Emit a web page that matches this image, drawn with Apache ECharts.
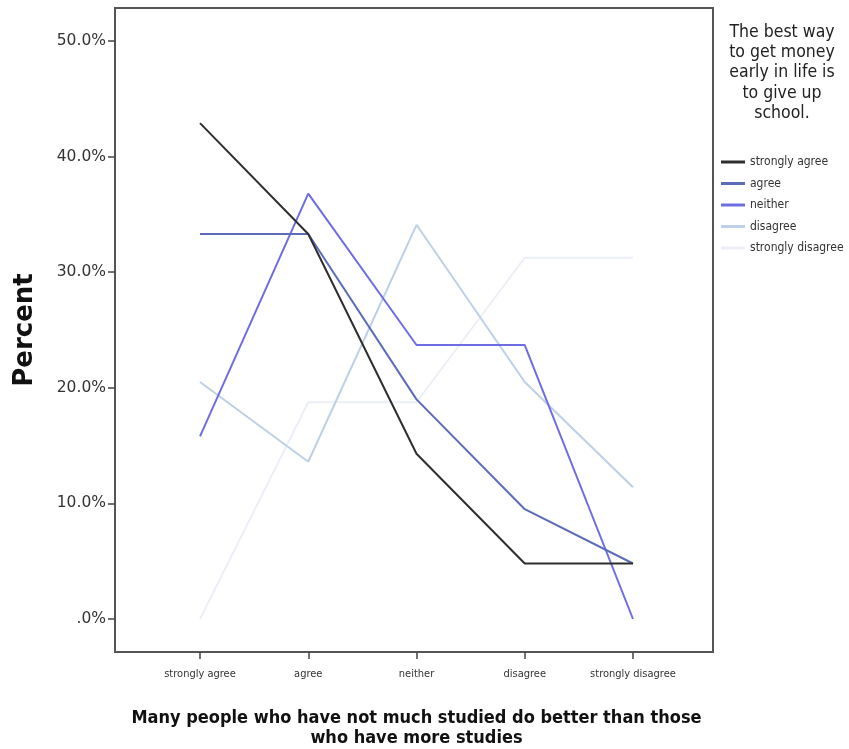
<!DOCTYPE html>
<html>
<head>
<meta charset="utf-8">
<script src="https://cdn.jsdelivr.net/npm/echarts@6/dist/echarts.min.js"></script>
<style>
  html, body { margin: 0; padding: 0; background: #fff; }
  #chart { width: 849px; height: 749px; }
</style>
</head>
<body>
<div id="chart"></div>
<script>
const categories = ['strongly agree', 'agree', 'neither', 'disagree', 'strongly disagree']
const seriesNames = ['strongly agree', 'agree', 'neither', 'disagree', 'strongly disagree']

// percent of each answer group
const stronglyAgree = [42.9, 33.3, 14.3, 4.8, 4.8]
const agree = [33.3, 33.3, 19.0, 9.5, 4.8]
const neither = [15.8, 36.8, 23.7, 23.7, 0.0]
const disagree = [20.5, 13.6, 34.1, 20.5, 11.4]
const stronglyDisagree = [0.0, 18.75, 18.75, 31.25, 31.25]

const yTicks = [0, 10, 20, 30, 40, 50]

const colors = ['#2e2e2e', '#5d6cb8', '#6e6ee2', '#bdd0e6', '#eceff7']
const cond = '"DejaVu Sans Condensed", "DejaVu Sans", sans-serif'

const chart = echarts.init(document.getElementById('chart'))

const dataSets = [stronglyAgree, agree, neither, disagree, stronglyDisagree]

const option = {
  backgroundColor: '#fff',
  animation: false,
  title: {
    text: 'The best way\nto get money\nearly in life is\nto give up\nschool.',
    left: 782,
    top: 22,
    padding: 0,
    textAlign: 'center',
    textStyle: {
      fontFamily: cond,
      fontSize: 17.5,
      fontWeight: 'normal',
      color: '#222',
      lineHeight: 20.3,
      align: 'center'
    }
  },
  legend: {
    orient: 'vertical',
    left: 716,
    top: 151,
    itemWidth: 24,
    itemHeight: 3,
    itemGap: 9.5,
    icon: 'rect',
    data: seriesNames,
    textStyle: {
      fontFamily: cond,
      fontSize: 12,
      color: '#333'
    }
  },
  grid: [
    // outer frame
    { left: 115, right: 136, top: 8, bottom: 97, show: true, borderColor: '#555', borderWidth: 2, backgroundColor: 'transparent', outerBoundsMode: 'none' },
    // y axis ticks
    { left: 115, right: 136, top: 41, bottom: 130, outerBoundsMode: 'none' },
    // x axis ticks, on the frame bottom
    { left: 200, right: 216, top: 8, bottom: 97, outerBoundsMode: 'none' },
    // data area
    { left: 200, right: 216, top: 41, bottom: 130, outerBoundsMode: 'none' }
  ],
  xAxis: [
    { gridIndex: 0, type: 'value', show: false },
    { gridIndex: 1, type: 'value', show: false },
    {
      gridIndex: 2,
      type: 'category',
      data: categories,
      boundaryGap: false,
      axisLine: { show: false },
      axisTick: { show: true, length: 7, alignWithLabel: true, lineStyle: { color: '#444', width: 1.5 } },
      axisLabel: { fontFamily: cond, fontSize: 11, color: '#333', margin: 17, interval: 0 },
      name: 'Many people who have not much studied do better than those\nwho have more studies',
      nameLocation: 'middle',
      nameGap: 56,
      nameTextStyle: { fontFamily: cond, fontWeight: 'bold', fontSize: 18, color: '#111', lineHeight: 20 }
    },
    { gridIndex: 3, type: 'category', data: categories, boundaryGap: false, show: false }
  ],
  yAxis: [
    { gridIndex: 0, type: 'value', show: false },
    {
      gridIndex: 1,
      type: 'value',
      min: yTicks[0],
      max: yTicks[yTicks.length - 1],
      interval: 10,
      axisLine: { show: false },
      axisTick: { show: true, length: 7, lineStyle: { color: '#444', width: 1.5 } },
      splitLine: { show: false },
      axisLabel: {
        fontFamily: '"DejaVu Sans", sans-serif',
        fontSize: 15.5,
        color: '#333',
        margin: 9,
        formatter: function (v) { return v === 0 ? '.0%' : v.toFixed(1) + '%' }
      },
      name: 'Percent',
      nameLocation: 'middle',
      nameRotate: 90,
      nameGap: 77,
      nameTextStyle: { fontFamily: '"DejaVu Sans", sans-serif', fontWeight: 'bold', fontSize: 26, color: '#111' }
    },
    { gridIndex: 2, type: 'value', show: false },
    { gridIndex: 3, type: 'value', min: 0, max: 50, show: false }
  ],
  series: seriesNames.map((name, i) => ({
    name: name,
    type: 'line',
    xAxisIndex: 3,
    yAxisIndex: 3,
    data: dataSets[i],
    symbol: 'none',
    color: colors[i],
    lineStyle: { color: colors[i], width: 2 },
    z: 10 - i
  }))
}

chart.setOption(option)
</script>
</body>
</html>
